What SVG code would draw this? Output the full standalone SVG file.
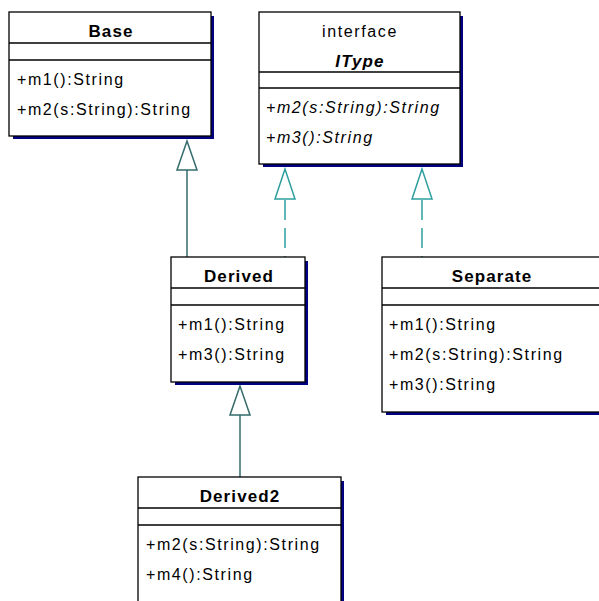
<svg xmlns="http://www.w3.org/2000/svg" width="599" height="601" viewBox="0 0 599 601">
<style>
.shadow{fill:#000080;}
.box{fill:#fff;stroke:#000;stroke-width:1.3;}
.sep{stroke:#000;stroke-width:1.3;fill:none;}
.title{font-family:"Liberation Sans",Arial,sans-serif;font-size:17px;font-weight:bold;text-anchor:middle;letter-spacing:1.1px;fill:#000;}
.stereo{font-family:"Liberation Sans",Arial,sans-serif;font-size:16px;text-anchor:middle;letter-spacing:1.6px;fill:#000;}
.ititle{font-family:"Liberation Sans",Arial,sans-serif;font-size:17px;font-weight:bold;font-style:italic;text-anchor:middle;letter-spacing:1.1px;fill:#000;}
.m{font-family:"Liberation Sans",Arial,sans-serif;font-size:16px;letter-spacing:1.6px;fill:#000;}
.mi{font-family:"Liberation Sans",Arial,sans-serif;font-size:16px;font-style:italic;letter-spacing:1.6px;fill:#000;}
.gen{stroke:#336b6b;stroke-width:1.5;fill:none;}
.real{stroke:#2e9e9e;stroke-width:1.5;fill:none;stroke-dasharray:20,8;}
.tri-gen{fill:#fff;stroke:#336b6b;stroke-width:1.5;}
.tri-real{fill:#fff;stroke:#2e9e9e;stroke-width:1.5;}
</style>

<g id="connectors">
  <line class="gen" x1="187" y1="170" x2="187" y2="257"/>
  <polygon class="tri-gen" points="187,141 177,170 197,170"/>
  <line class="real" x1="285" y1="200" x2="285" y2="257"/>
  <polygon class="tri-real" points="285,169 275,199 295,199"/>
  <line class="real" x1="422" y1="200" x2="422" y2="257"/>
  <polygon class="tri-real" points="422,169 412,199 432,199"/>
  <line class="gen" x1="240" y1="415" x2="240" y2="477"/>
  <polygon class="tri-gen" points="240,386 230,415 250,415"/>
</g>

<g id="Base">
  <rect class="shadow" x="13" y="16" width="201" height="123"/>
  <rect class="box" x="9" y="12" width="202" height="124"/>
  <line class="sep" x1="9" y1="43" x2="211" y2="43"/>
  <line class="sep" x1="9" y1="60" x2="211" y2="60"/>
  <text class="title" x="111" y="37">Base</text>
  <text class="m" x="17" y="85">+m1():String</text>
  <text class="m" x="17" y="115">+m2(s:String):String</text>
</g>

<g id="IType">
  <rect class="shadow" x="263" y="16" width="200" height="151"/>
  <rect class="box" x="259" y="12" width="201" height="152"/>
  <line class="sep" x1="259" y1="72" x2="460" y2="72"/>
  <line class="sep" x1="259" y1="88" x2="460" y2="88"/>
  <text class="stereo" x="360" y="37">interface</text>
  <text class="ititle" x="360" y="67">IType</text>
  <text class="mi" x="266" y="113">+m2(s:String):String</text>
  <text class="mi" x="266" y="143">+m3():String</text>
</g>

<g id="Derived">
  <rect class="shadow" x="175" y="261" width="133" height="124"/>
  <rect class="box" x="171" y="257" width="134" height="125"/>
  <line class="sep" x1="171" y1="288" x2="305" y2="288"/>
  <line class="sep" x1="171" y1="305" x2="305" y2="305"/>
  <text class="title" x="239" y="282">Derived</text>
  <text class="m" x="178" y="330">+m1():String</text>
  <text class="m" x="178" y="360">+m3():String</text>
</g>

<g id="Separate">
  <rect class="shadow" x="386" y="261" width="230" height="154"/>
  <rect class="box" x="382" y="257" width="230" height="155"/>
  <line class="sep" x1="382" y1="288" x2="612" y2="288"/>
  <line class="sep" x1="382" y1="305" x2="612" y2="305"/>
  <text class="title" x="492" y="282">Separate</text>
  <text class="m" x="389" y="330">+m1():String</text>
  <text class="m" x="389" y="360">+m2(s:String):String</text>
  <text class="m" x="389" y="390">+m3():String</text>
</g>

<g id="Derived2">
  <rect class="shadow" x="142" y="481" width="202" height="140"/>
  <rect class="box" x="138" y="477" width="203" height="140"/>
  <line class="sep" x1="138" y1="508" x2="341" y2="508"/>
  <line class="sep" x1="138" y1="525" x2="341" y2="525"/>
  <text class="title" x="240" y="502">Derived2</text>
  <text class="m" x="146" y="550">+m2(s:String):String</text>
  <text class="m" x="146" y="580">+m4():String</text>
</g>
</svg>
